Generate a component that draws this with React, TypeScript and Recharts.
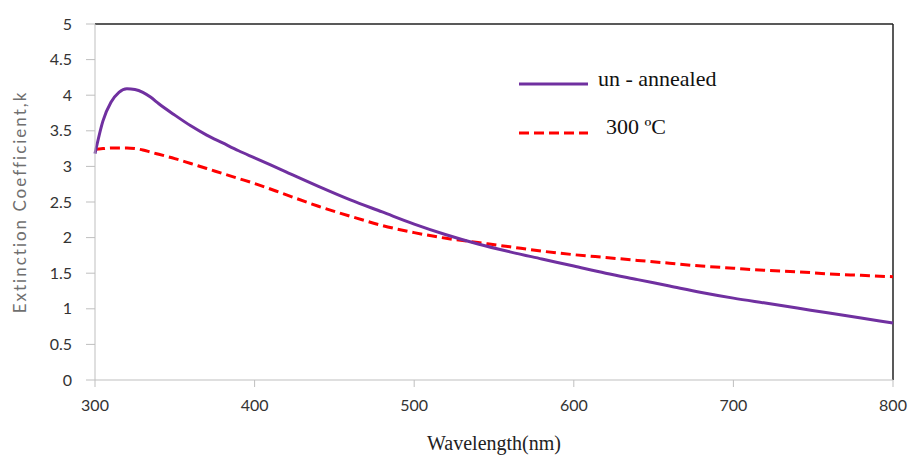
import { LineChart, Line, XAxis, YAxis, ReferenceLine } from "recharts";

// wavelength grid (nm)
const wavelength = [
  300, 305, 310, 315, 320, 325, 330, 335, 340, 350, 360, 370, 380, 390, 400,
  420, 440, 460, 480, 500, 520, 540, 560, 580, 600, 620, 640, 660, 680, 700,
  720, 740, 760, 780, 800,
];

// extinction coefficient, un-annealed film
const unAnnealed = [
  3.18, 3.64, 3.9, 4.04, 4.09, 4.08, 4.04, 3.97, 3.88, 3.72, 3.57, 3.44, 3.33,
  3.22, 3.12, 2.92, 2.72, 2.53, 2.36, 2.19, 2.04, 1.91, 1.8, 1.7, 1.6, 1.5,
  1.41, 1.32, 1.23, 1.15, 1.08, 1.01, 0.94, 0.87, 0.8,
];

// extinction coefficient, annealed at 300 C
const annealed300 = [
  3.24, 3.25, 3.26, 3.26, 3.26, 3.25, 3.23, 3.2, 3.17, 3.11, 3.04, 2.97, 2.9,
  2.83, 2.76, 2.6, 2.44, 2.3, 2.17, 2.07, 1.99, 1.93, 1.87, 1.81, 1.76, 1.72,
  1.68, 1.64, 1.6, 1.57, 1.54, 1.52, 1.49, 1.47, 1.45,
];

const xTicks = [300, 400, 500, 600, 700, 800];
const yTicks = [0, 0.5, 1, 1.5, 2, 2.5, 3, 3.5, 4, 4.5, 5];

const data = wavelength.map((w, i) => ({
  w,
  un: unAnnealed[i],
  t300: annealed300[i],
}));

const PURPLE = "#7030A0";
const RED = "#FF0000";
const SERIF = "'Liberation Serif', 'Times New Roman', serif";

// legend drawn over the plot area
const LegendBox = () => (
  <svg
    width={914}
    height={459}
    style={{ position: "absolute", left: 0, top: 0, pointerEvents: "none" }}
  >
    <line x1={519} y1={84} x2={588} y2={84} stroke={PURPLE} strokeWidth={3} />
    <text x={598} y={86} fontFamily={SERIF} fontSize={22} fill="#111">
      un - annealed
    </text>
    <line x1={519} y1={133} x2={588} y2={133} stroke={RED} strokeWidth={3} strokeDasharray="10 5" />
    <text x={606} y={134} fontFamily={SERIF} fontSize={22} fill="#111">
      300 ºC
    </text>
  </svg>
);

const App = () => {
  const tickStyle = { fontFamily: "Lato, 'Open Sans', sans-serif", fontSize: 16, fill: "#333" };
  return (
    <div style={{ position: "absolute", left: 0, top: 0, width: 914, height: 459, background: "#fff" }}>
      <LineChart
        width={914}
        height={459}
        data={data}
        margin={{ top: 24, right: 21, bottom: 0, left: 0 }}
      >
        <XAxis
          dataKey="w"
          type="number"
          domain={[300, 800]}
          ticks={xTicks}
          tick={tickStyle}
          tickSize={7}
          tickMargin={13}
          stroke="#BFBFBF"
          height={79}
          label={{
            value: "Wavelength(nm)",
            position: "insideBottom",
            offset: 9,
            style: { fontFamily: SERIF, fontSize: 20, fill: "#222" },
          }}
        />
        <YAxis
          type="number"
          domain={[0, 5]}
          ticks={yTicks}
          tick={tickStyle}
          tickSize={9}
          tickMargin={14}
          stroke="#BFBFBF"
          width={95}
          interval={0}
          label={{
            value: "Extinction Coefficient,k",
            angle: -90,
            position: "insideLeft",
            offset: 20,
            style: {
              textAnchor: "middle",
              fontFamily: "Lato, 'Open Sans', sans-serif",
              fontSize: 17,
              letterSpacing: 2,
              fill: "#6f6f6f",
            },
          }}
        />
        <ReferenceLine y={5} stroke="#222" strokeWidth={1.5} />
        <ReferenceLine x={800} stroke="#222" strokeWidth={1.5} />
        <Line
          type="monotone"
          dataKey="t300"
          stroke={RED}
          strokeWidth={3}
          strokeDasharray="10 5"
          dot={false}
          isAnimationActive={false}
        />
        <Line
          type="monotone"
          dataKey="un"
          stroke={PURPLE}
          strokeWidth={3}
          dot={false}
          isAnimationActive={false}
        />
      </LineChart>
      <LegendBox />
    </div>
  );
};

export default App;
